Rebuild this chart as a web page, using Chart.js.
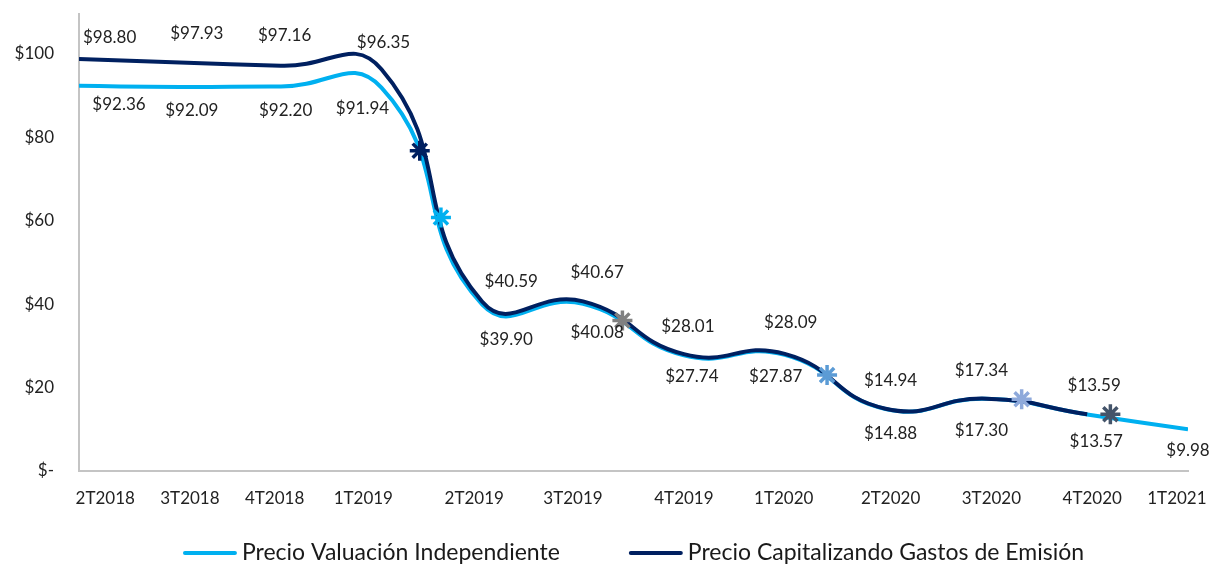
<!DOCTYPE html>
<html lang="es">
<head>
  <meta charset="UTF-8">
  <title>Precio por certificado</title>
  <script src="https://cdn.jsdelivr.net/npm/chart.js@4.4.1/dist/chart.umd.min.js"></script>
  <style>
    body { margin: 0; background: #fff; }
  </style>
</head>
<body>
  <canvas id="precioChart" width="1216" height="569"></canvas>

  <script>
    // datos
    const quarters = ['2T2018', '3T2018', '4T2018', '1T2019', '2T2019', '3T2019', '4T2019', '1T2020', '2T2020', '3T2020', '4T2020', '1T2021'];
    const precioValuacion = [92.36, 92.09, 92.20, 91.94, 39.90, 40.08, 27.74, 27.87, 14.88, 17.30, 13.57, 9.98];
    const precioCapitalizando = [98.80, 97.93, 97.16, 96.35, 40.59, 40.67, 28.01, 28.09, 14.94, 17.34, 13.59, null];
    // asteriscos sobre la curva (posicion en trimestres, valor)
    const markerQ = [3.38, 3.59, 5.39, 7.42, 9.35, 10.23];
    const markerVal = [76.8, 60.8, 36.1, 23.0, 17.2, 13.6];
    const yTicks = [0, 20, 40, 60, 80, 100];

    const markerColors = ['#002060', '#00B0F0', '#808080', '#5B9BD5', '#8EA9DB', '#44546A'];
    // donde van las etiquetas del eje x (en trimestres)
    const labelAt = [0.26, 1.10, 1.94, 2.82, 3.92, 4.90, 6.00, 6.99, 8.05, 9.05, 10.05, 10.89];

    Chart.defaults.font.family = 'Lato, "Open Sans", sans-serif';
    Chart.defaults.color = '#222';

    const toPoints = arr => arr.map((v, i) => ({ x: i, y: v }));

    // etiquetas de valor, desplazadas a mano como en el original
    const dataLabels = {
      id: 'dataLabels',
      afterDatasetsDraw(chart, args, opts) {
        const ctx = chart.ctx;
        ctx.save();
        ctx.font = '17px Lato';
        ctx.fillStyle = '#222';
        ctx.textAlign = 'center';
        ctx.textBaseline = 'middle';
        Object.keys(opts.series).forEach(di => {
          const ds = chart.data.datasets[di];
          const nudge = opts.series[di];
          chart.getDatasetMeta(di).data.forEach((pt, i) => {
            const v = ds.data[i].y;
            if (v == null) return;
            const text = '$' + v.toFixed(2);
            const w = ctx.measureText(text).width;
            let x = pt.x + nudge.dx[i];
            x = Math.max(x, chart.chartArea.left + 4 + w / 2);
            x = Math.min(x, chart.width - 4 - w / 2);
            ctx.fillText(text, x, pt.y + nudge.dy[i]);
          });
        });
        ctx.restore();
      }
    };

    // leyenda de lineas centrada bajo el area de la grafica
    const lineLegend = {
      id: 'lineLegend',
      afterDraw(chart, args, opts) {
        const ctx = chart.ctx;
        const area = chart.chartArea;
        ctx.save();
        ctx.font = '23px Lato';
        ctx.textBaseline = 'middle';
        ctx.textAlign = 'left';
        const items = opts.items.map(i => chart.data.datasets[i]);
        const widths = items.map(d => 54 + 5 + ctx.measureText(d.label).width);
        const total = widths.reduce((a, b) => a + b, 0) + 69 * (items.length - 1);
        let x = (area.left + area.right) / 2 - total / 2;
        const y = opts.y;
        items.forEach((d, i) => {
          ctx.strokeStyle = d.borderColor;
          ctx.lineWidth = 4;
          ctx.lineCap = 'round';
          ctx.beginPath();
          ctx.moveTo(x + 2, y);
          ctx.lineTo(x + 52, y);
          ctx.stroke();
          ctx.fillStyle = '#1a1a1a';
          ctx.fillText(d.label, x + 59, y);
          x += widths[i] + 69;
        });
        ctx.restore();
      }
    };

    new Chart(document.getElementById('precioChart'), {
      type: 'line',
      data: {
        datasets: [{
          label: 'Precio Valuación Independiente',
          data: toPoints(precioValuacion),
          borderColor: '#00B0F0',
          borderWidth: 4,
          pointRadius: 0,
          tension: 0.5,
          order: 2
        }, {
          label: 'Precio Capitalizando Gastos de Emisión',
          data: toPoints(precioCapitalizando),
          borderColor: '#002060',
          borderWidth: 4,
          pointRadius: 0,
          tension: 0.5,
          order: 1
        }, {
          type: 'scatter',
          label: 'marcas',
          data: markerQ.map((q, i) => ({ x: q, y: markerVal[i] })),
          pointStyle: 'star',
          pointRadius: 10,
          pointBorderWidth: 3.5,
          pointBorderColor: markerColors,
          pointBackgroundColor: markerColors,
          order: 0
        }]
      },
      options: {
        responsive: false,
        animation: false,
        layout: { padding: { top: 1, right: 28, bottom: 58, left: 0 } },
        scales: {
          x: {
            type: 'linear',
            min: 0,
            max: 11,
            grid: { display: false, drawTicks: false },
            border: { color: '#c4c4c4', width: 2 },
            afterBuildTicks: s => { s.ticks = labelAt.map(v => ({ value: v })); },
            afterFit: s => { s.height = 40; s.paddingLeft = 0; s.paddingRight = 0; },
            ticks: {
              autoSkip: false,
              maxRotation: 0,
              padding: 17,
              font: { size: 17 },
              callback: (v, i) => quarters[i]
            }
          },
          y: {
            min: 0,
            max: 109.7,
            grid: { display: false, drawTicks: false },
            border: { color: '#c4c4c4', width: 2 },
            afterBuildTicks: s => { s.ticks = yTicks.map(v => ({ value: v })); },
            afterFit: s => { s.width = 79; s.paddingTop = 0; s.paddingBottom = 0; },
            ticks: {
              padding: 25,
              font: { size: 17 },
              callback: v => v === 0 ? '$-' : '$' + v
            }
          }
        },
        plugins: {
          legend: { display: false },
          tooltip: { enabled: false },
          dataLabels: {
            series: {
              0: { dx: [40, 12, 5, -19, 24, 14, 8, -9, 5, -5, 9, 0],
                   dy: [19, 24, 24, 21, 35, 29, 21, 22, 25, 32, 27, 21] },
              1: { dx: [30, 17, 4, 2, 29, 14, 4, 6, 5, -5, 7],
                   dy: [-21, -29, -30, -27, -20, -29, -28, -31, -28, -28, -29] }
            }
          },
          lineLegend: { items: [0, 1], y: 553 }
        }
      },
      plugins: [dataLabels, lineLegend]
    });
  </script>
</body>
</html>
